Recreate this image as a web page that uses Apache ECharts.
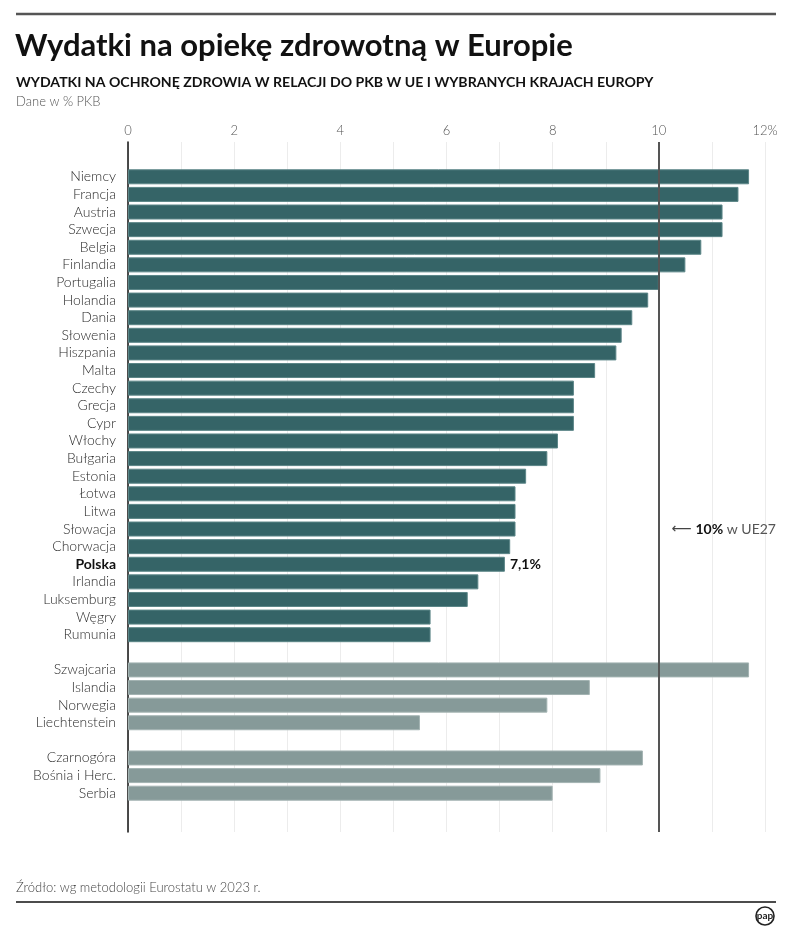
<!DOCTYPE html>
<html>
<head>
<meta charset="utf-8">
<script src="https://cdn.jsdelivr.net/npm/echarts@6/dist/echarts.min.js"></script>
<style>
html,body{margin:0;padding:0;background:#fff;}
#chart{width:792px;height:936px;}
</style>
</head>
<body>
<div id="chart"></div>
<script>
// ---- data ----
var euCountries = ['Niemcy','Francja','Austria','Szwecja','Belgia','Finlandia','Portugalia','Holandia','Dania','Słowenia','Hiszpania','Malta','Czechy','Grecja','Cypr','Włochy','Bułgaria','Estonia','Łotwa','Litwa','Słowacja','Chorwacja','Polska','Irlandia','Luksemburg','Węgry','Rumunia'];
var euValues = [11.7,11.5,11.2,11.2,10.8,10.5,10.0,9.8,9.5,9.3,9.2,8.8,8.4,8.4,8.4,8.1,7.9,7.5,7.3,7.3,7.3,7.2,7.1,6.6,6.4,5.7,5.7];
var eftaCountries = ['Szwajcaria','Islandia','Norwegia','Liechtenstein'];
var eftaValues = [11.7,8.7,7.9,5.5];
var otherCountries = ['Czarnogóra','Bośnia i Herc.','Serbia'];
var otherValues = [9.7,8.9,8.0];
var xTicks = [0,2,4,6,8,10,12];
var euAverage = 10;
var highlight = 'Polska';

// ---- build ----
var FONT = 'Lato, "Noto Sans", sans-serif';
var categories = euCountries.concat([''], eftaCountries, [' '], otherCountries);
var euSeries = [], grSeries = [];
euCountries.forEach(function(c,i){
  var item = {value: euValues[i]};
  if (c === highlight) {
    item.label = {show:true, position:'right', distance:5, formatter: function(p){return String(p.value).replace('.',',')+'%';},
      color:'#111', fontWeight:'bold', fontSize:14, fontFamily:FONT};
  }
  euSeries.push(item); grSeries.push('-');
});
euSeries.push('-'); grSeries.push('-');
eftaCountries.forEach(function(c,i){ euSeries.push('-'); grSeries.push(eftaValues[i]); });
euSeries.push('-'); grSeries.push('-');
otherCountries.forEach(function(c,i){ euSeries.push('-'); grSeries.push(otherValues[i]); });

var chart = echarts.init(document.getElementById('chart'), null, {renderer:'canvas'});
chart.setOption({
  animation:false,
  backgroundColor:'#fff',
  title:[
    {text:'Wydatki na opiekę zdrowotną w Europie', left:15, top:30, padding:0, textStyle:{fontFamily:FONT, fontWeight:'bold', fontSize:31, color:'#111'}},
    {text:'WYDATKI NA OCHRONĘ ZDROWIA W RELACJI DO PKB W UE I WYBRANYCH KRAJACH EUROPY', left:16, top:75, padding:0, textStyle:{fontFamily:FONT, fontWeight:'bold', fontSize:14.1, color:'#111'}},
    {text:'Dane w % PKB', left:16, top:95, padding:0, textStyle:{fontFamily:FONT, fontWeight:300, fontSize:13, color:'#555'}},
    {text:'Źródło: wg metodologii Eurostatu w 2023 r.', left:16, top:881, padding:0, textStyle:{fontFamily:FONT, fontWeight:300, fontSize:13, color:'#444'}}
  ],
  graphic:[
    {type:'line', shape:{x1:16,y1:14,x2:776,y2:14}, style:{stroke:'#555', lineWidth:2.5}},
    {type:'line', shape:{x1:16,y1:902,x2:776,y2:902}, style:{stroke:'#111', lineWidth:1.5}},
    {type:'circle', shape:{cx:765,cy:916,r:9}, style:{fill:'#fff', stroke:'#222', lineWidth:1.6}},
    {type:'text', x:765, y:916, style:{text:'pap', fontFamily:FONT, fontWeight:'bold', fontSize:10, fill:'#222', align:'center', verticalAlign:'middle'}}
  ],
  grid:[
    {left:128, right:27, top:142, bottom:104},
    {left:128, right:27, top:168, bottom:134}
  ],
  xAxis:[
    {gridIndex:0, type:'value', min:0, max:12, interval:1, position:'top',
     axisLine:{show:false}, axisTick:{show:false},
     axisLabel:{margin:5, color:'#555', fontFamily:FONT, fontWeight:300, fontSize:13,
       formatter:function(v){ if (xTicks.indexOf(v) < 0) return ''; return v === 12 ? v + '%' : String(v); }},
     splitLine:{show:true, lineStyle:{color:'#ececec', width:1}}},
    {gridIndex:1, type:'value', min:0, max:12, show:false}
  ],
  yAxis:[
    {gridIndex:0, type:'value', min:0, max:1, axisLabel:{show:false}, axisTick:{show:false}, splitLine:{show:false},
     axisLine:{show:true, lineStyle:{color:'#111', width:1.5}}},
    {gridIndex:1, type:'category', inverse:true, data:categories,
     axisLine:{show:false}, axisTick:{show:false},
     axisLabel:{margin:12, interval:0, color:'#2a2a2a', fontFamily:FONT, fontWeight:300, fontSize:14,
       formatter:function(v){ return v === highlight ? '{b|' + v + '}' : v; },
       rich:{b:{fontFamily:FONT, fontWeight:'bold', fontSize:14, color:'#111'}}}}
  ],
  series:[
    {type:'scatter', xAxisIndex:0, yAxisIndex:0, data:[], silent:true,
     markLine:{symbol:['none','none'], silent:true, label:{show:false},
       lineStyle:{color:'#555', width:2, type:'solid'}, data:[{xAxis:euAverage}]}},
    {name:'UE', type:'bar', xAxisIndex:1, yAxisIndex:1, data:euSeries, barWidth:15,
     itemStyle:{color:'#356467', borderColor:'#5b8587', borderWidth:1}},
    {name:'Inne', type:'bar', xAxisIndex:1, yAxisIndex:1, data:grSeries, barWidth:15, barGap:'-100%',
     itemStyle:{color:'#869a99', borderColor:'#a3b3b2', borderWidth:1},
     markPoint:{symbol:'circle', symbolSize:0, silent:true,
       data:[{coord:[euAverage,'Słowacja'],
         label:{show:true, position:'right', distance:13, fontFamily:FONT, fontSize:14, color:'#555',
           formatter:'{a|⟵} {b|10%} w UE27',
           rich:{a:{fontFamily:'DejaVu Sans', fontSize:14, color:'#444'}, b:{fontFamily:FONT, fontWeight:'bold', fontSize:14, color:'#111'}}}}]}}
  ]
});
</script>
</body>
</html>
